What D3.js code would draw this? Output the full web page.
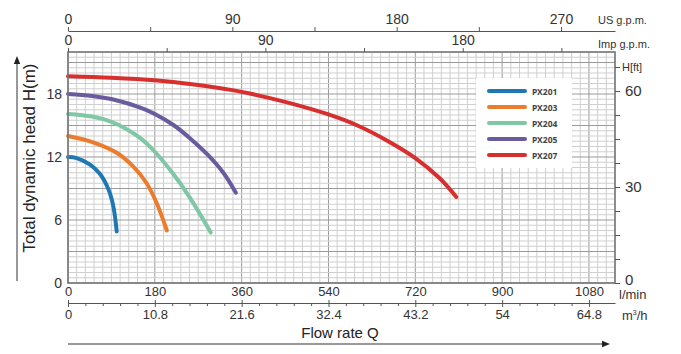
<!DOCTYPE html>
<html>
<head>
<meta charset="utf-8">
<script src="https://cdn.jsdelivr.net/npm/d3@7"></script>
<style>
  body { margin: 0; background: #fff; }
  svg { display: block; font-family: "Liberation Sans Narrow", "Arial Narrow", "Liberation Sans", sans-serif; }
  .axis path, .axis line { stroke: #555; }
  .axis text { fill: #333; }
</style>
</head>
<body>
<div id="chart"></div>
<script>
// pump curves: flow in l/min, head in m
var seriesNames = ["PX201", "PX203", "PX204", "PX205", "PX207"];
var seriesColors = ["#1f78b4", "#ec7c2c", "#7fc7a5", "#6a5a9e", "#d62f2e"];
var flowPX201 = [0, 18, 45, 66, 84, 94, 101];
var headPX201 = [12.0, 11.9, 11.3, 10.4, 8.9, 7.3, 4.9];
var flowPX203 = [0, 52, 101, 135, 163, 184, 205];
var headPX203 = [14.0, 13.4, 12.4, 11.1, 9.5, 7.6, 5.0];
var flowPX204 = [0, 50, 90, 120, 150, 180, 218, 253, 296];
var headPX204 = [16.1, 15.85, 15.35, 14.7, 13.8, 12.5, 10.4, 8.1, 4.8];
var flowPX205 = [0, 50, 100, 150, 180, 220, 255, 290, 322, 348];
var headPX205 = [18.0, 17.8, 17.4, 16.7, 16.1, 15.0, 13.7, 12.2, 10.5, 8.6];
var flowPX207 = [0, 90, 180, 270, 360, 450, 540, 600, 660, 720, 770, 805];
var headPX207 = [19.7, 19.55, 19.3, 18.85, 18.2, 17.25, 16.05, 15.0, 13.6, 11.9, 10.0, 8.2];

// tick labels
var lminTicks = [0, 180, 360, 540, 720, 900, 1080];
var m3hTicks = ["0", "10.8", "21.6", "32.4", "43.2", "54", "64.8"];
var headTicks = [0, 6, 12, 18];
var ftTicks = [0, 30, 60];
var usTicks = [0, 90, 180, 270];
var impTicks = [0, 90, 180];

var flows = [flowPX201, flowPX203, flowPX204, flowPX205, flowPX207];
var heads = [headPX201, headPX203, headPX204, headPX205, headPX207];

var W = 681, H = 354;
var pLeft = 68, pRight = 615, pTop = 52, pBottom = 283;
var maxFlow = 1134, maxHead = 22;

var x = d3.scaleLinear().domain([0, maxFlow]).range([pLeft, pRight]);
var y = d3.scaleLinear().domain([0, maxHead]).range([pBottom, pTop]);

var svg = d3.select("#chart").append("svg")
  .attr("width", W)
  .attr("height", H);

svg.append("rect").attr("width", W).attr("height", H).attr("fill", "#fff");

// grid
var grid = svg.append("g");
grid.selectAll("line.vmin")
  .data(d3.range(0, maxFlow + 1, 18))
  .enter().append("line")
  .attr("x1", function(d){ return x(d); }).attr("x2", function(d){ return x(d); })
  .attr("y1", pTop).attr("y2", pBottom)
  .attr("stroke", function(d){ return d % 180 == 0 ? "#9a9a9a" : "#cfcfcf"; })
  .attr("stroke-width", 1);
grid.selectAll("line.hmin")
  .data(d3.range(0, maxHead + 0.01, 0.5))
  .enter().append("line")
  .attr("y1", function(d){ return y(d); }).attr("y2", function(d){ return y(d); })
  .attr("x1", pLeft).attr("x2", pRight)
  .attr("stroke", function(d){ return d % 3 == 0 ? "#9a9a9a" : "#cfcfcf"; })
  .attr("stroke-width", 1);

// legend background covers grid
var legend = svg.append("g");
legend.append("rect")
  .attr("x", 476).attr("y", 78).attr("width", 96).attr("height", 90)
  .attr("fill", "#fff");

// curves
var line = d3.line()
  .x(function(d){ return x(d[0]); })
  .y(function(d){ return y(d[1]); })
  .curve(d3.curveCatmullRom.alpha(0.5));

svg.append("g").selectAll("path")
  .data(seriesNames)
  .enter().append("path")
  .attr("d", function(d, i){ return line(d3.zip(flows[i], heads[i])); })
  .attr("fill", "none")
  .attr("stroke", function(d, i){ return seriesColors[i]; })
  .attr("stroke-width", 4)
  .attr("stroke-linecap", "round");

// legend entries
var rowY = d3.scalePoint().domain(seriesNames).range([91, 155]);
legend.selectAll("line")
  .data(seriesNames)
  .enter().append("line")
  .attr("x1", 489).attr("x2", 525)
  .attr("y1", function(d){ return rowY(d); }).attr("y2", function(d){ return rowY(d); })
  .attr("stroke", function(d, i){ return seriesColors[i]; })
  .attr("stroke-width", 4)
  .attr("stroke-linecap", "round");
legend.selectAll("text")
  .data(seriesNames)
  .enter().append("text")
  .attr("x", 532)
  .attr("y", function(d){ return rowY(d); })
  .attr("dominant-baseline", "central")
  .style("font-family", "'Noto Sans', sans-serif")
  .style("font-size", "8.5px")
  .style("font-weight", "bold")
  .attr("fill", "#444")
  .text(function(d){ return d; });

// plot border
svg.append("rect")
  .attr("x", pLeft).attr("y", pTop)
  .attr("width", pRight - pLeft).attr("height", pBottom - pTop)
  .attr("fill", "none").attr("stroke", "#777").attr("stroke-width", 1.6);

// left axis: head in m
var axL = svg.append("g").attr("class", "axis")
  .attr("transform", "translate(" + pLeft + ",0)")
  .call(d3.axisLeft(y).tickValues(headTicks).tickSize(0).tickPadding(6));
axL.select(".domain").remove();
axL.selectAll("text").style("font-size", "14px");

// right axis: head in ft
var yft = d3.scaleLinear().domain([0, maxHead * 3.28084]).range([pBottom, pTop]);
var axR = svg.append("g").attr("class", "axis")
  .attr("transform", "translate(" + pRight + ",0)")
  .call(d3.axisRight(yft).tickValues(d3.range(0, 72, 7.5)).tickSize(5).tickPadding(5)
    .tickFormat(function(d){ return ftTicks.indexOf(d) >= 0 ? d : ""; }));
axR.select(".domain").remove();
axR.selectAll("line").attr("stroke", "#888");
axR.selectAll("text").style("font-size", "15px");
axR.selectAll(".tick").filter(function(d){ return d == 0; }).select("text").attr("dy", "0.1em");
svg.append("text").attr("x", 622).attr("y", 71)
  .style("font-size", "11px").attr("fill", "#333").text("H[ft]");

// top axis: US gpm
var xus = d3.scaleLinear().domain([0, maxFlow / 3.78541]).range([pLeft, pRight]);
var axUS = svg.append("g").attr("class", "axis")
  .attr("transform", "translate(0,31)")
  .call(d3.axisTop(xus).tickValues(d3.range(0, 300, 45)).tickSize(4).tickSizeOuter(0).tickPadding(3)
    .tickFormat(function(d){ return usTicks.indexOf(d) >= 0 ? d : ""; }));
axUS.select(".domain").attr("stroke", "#777");
axUS.selectAll("text").style("font-size", "14px");
svg.append("text").attr("x", 598).attr("y", 24)
  .style("font-size", "11px").attr("fill", "#333").text("US g.p.m.");

// Imp gpm on the plot top border
var ximp = d3.scaleLinear().domain([0, maxFlow / 4.54609]).range([pLeft, pRight]);
var axImp = svg.append("g").attr("class", "axis")
  .attr("transform", "translate(0," + pTop + ")")
  .call(d3.axisTop(ximp).tickValues(d3.range(0, 250, 45)).tickSize(4).tickSizeOuter(0).tickPadding(3)
    .tickFormat(function(d){ return impTicks.indexOf(d) >= 0 ? d : ""; }));
axImp.select(".domain").remove();
axImp.selectAll("line").attr("stroke", "#888");
axImp.selectAll("text").style("font-size", "14px");
svg.append("text").attr("x", 598).attr("y", 48)
  .style("font-size", "11px").attr("fill", "#333").text("Imp g.p.m.");

// bottom axis: l/min
var axB = svg.append("g").attr("class", "axis")
  .attr("transform", "translate(0," + pBottom + ")")
  .call(d3.axisBottom(x).tickValues(lminTicks).tickSize(0).tickPadding(4).tickFormat(d3.format("d")));
axB.select(".domain").remove();
axB.selectAll("text").style("font-size", "13px");
svg.append("text").attr("x", 619).attr("y", 299)
  .style("font-size", "13px").attr("fill", "#333").text("l/min");

// second bottom axis: m3/h
var xm3 = d3.scaleLinear().domain([0, maxFlow * 0.06]).range([pLeft, pRight]);
var axM = svg.append("g").attr("class", "axis")
  .attr("transform", "translate(0,303)")
  .call(d3.axisBottom(xm3).tickValues(d3.range(0, 65.5, 2.16)).tickSize(3).tickSizeOuter(0).tickPadding(4)
    .tickFormat(function(d, i){ return i % 5 == 0 ? m3hTicks[i / 5] : ""; }));
axM.select(".domain").attr("stroke", "#777");
axM.selectAll(".tick").filter(function(d, i){ return i % 5 == 0; })
  .select("line").attr("y1", -3).attr("y2", 4);
axM.selectAll("text").style("font-size", "13px");
var m3lab = svg.append("text").attr("x", 622).attr("y", 320)
  .style("font-size", "13px").attr("fill", "#333");
m3lab.append("tspan").text("m");
m3lab.append("tspan").attr("dy", -5).style("font-size", "7px").text("3");
m3lab.append("tspan").attr("dy", 5).text("/h");

// axis titles and arrows
svg.append("defs").append("marker")
  .attr("id", "arrow").attr("viewBox", "0 0 10 10")
  .attr("refX", 5).attr("refY", 5)
  .attr("markerWidth", 8).attr("markerHeight", 8)
  .attr("orient", "auto-start-reverse")
  .append("path").attr("d", "M0,1 L10,5 L0,9 Z").attr("fill", "#222");

svg.append("line")
  .attr("x1", pLeft).attr("x2", 606).attr("y1", 344).attr("y2", 344)
  .attr("stroke", "#333").attr("stroke-width", 1)
  .attr("marker-end", "url(#arrow)");
svg.append("text")
  .attr("x", 340).attr("y", 338).attr("text-anchor", "middle")
  .style("font-size", "15px").attr("fill", "#222").text("Flow rate Q");

svg.append("line")
  .attr("x1", 17).attr("x2", 17).attr("y1", 281).attr("y2", 60)
  .attr("stroke", "#333").attr("stroke-width", 1)
  .attr("marker-end", "url(#arrow)");
svg.append("text")
  .attr("transform", "translate(35,158) rotate(-90)")
  .attr("text-anchor", "middle")
  .style("font-size", "17px").attr("fill", "#222")
  .text("Total dynamic head H(m)");
</script>
</body>
</html>
